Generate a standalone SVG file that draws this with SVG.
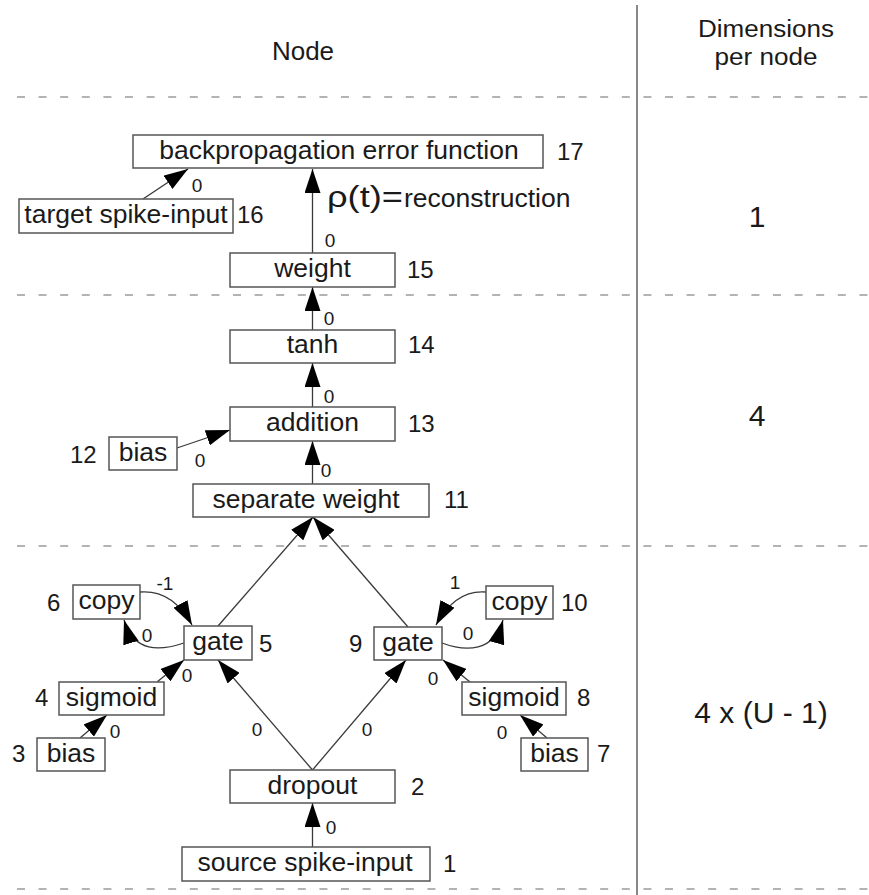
<svg xmlns="http://www.w3.org/2000/svg" width="869" height="895" viewBox="0 0 869 895">
<style>
  text { font-family: "Liberation Sans", Arial, sans-serif; fill: #1a1a1a; }
  .box { fill: #fff; stroke: #555; stroke-width: 1.5; }
  .lbl { font-size: 26.5px; text-anchor: middle; }
  .num { font-size: 24px; }
  .el { font-size: 19px; text-anchor: middle; }
  .hdr { font-size: 26px; text-anchor: middle; }
  .hdr2 { font-size: 23px; text-anchor: middle; }
  .dim { font-size: 30px; text-anchor: middle; }
  .dash { stroke: #9a9a9a; stroke-width: 1.5; stroke-dasharray: 8 13.6; fill: none; }
  .edge { stroke: #3a3a3a; stroke-width: 1.3; fill: none; marker-end: url(#ah); }
</style>
<defs>
  <marker id="ah" markerUnits="userSpaceOnUse" markerWidth="24" markerHeight="16" viewBox="0 0 24 16" refX="24" refY="8" orient="auto">
    <path d="M0,0 L24,8 L0,16 z" fill="#000"/>
  </marker>
</defs>
<rect width="869" height="895" fill="#fff"/>

<g id="grid">
  <line x1="637" y1="5" x2="637" y2="895" stroke="#888" stroke-width="2"/>
  <line class="dash" x1="17" y1="97" x2="869" y2="97"/>
  <line class="dash" x1="17" y1="295" x2="869" y2="295"/>
  <line class="dash" x1="17" y1="546" x2="869" y2="546"/>
  <line class="dash" x1="17" y1="889" x2="869" y2="889"/>
  <text class="hdr" x="303" y="60">Node</text>
  <text class="hdr2" x="766" y="37" textLength="136" lengthAdjust="spacingAndGlyphs">Dimensions</text>
  <text class="hdr2" x="766" y="65" textLength="103" lengthAdjust="spacingAndGlyphs">per node</text>
  <text class="dim" x="757" y="227">1</text>
  <text class="dim" x="757" y="426">4</text>
  <text class="dim" x="761" y="723">4 x (U - 1)</text>
</g>

<g id="connectors">
  <line class="edge" x1="143" y1="199" x2="188" y2="169"/>
  <line class="edge" x1="312.5" y1="253" x2="312.5" y2="169"/>
  <line class="edge" x1="312.5" y1="330" x2="312.5" y2="287"/>
  <line class="edge" x1="312.5" y1="407" x2="312.5" y2="363"/>
  <line class="edge" x1="177" y1="448" x2="230" y2="430"/>
  <line class="edge" x1="312.5" y1="484" x2="312.5" y2="441"/>
  <line class="edge" x1="218" y1="626" x2="313" y2="517"/>
  <line class="edge" x1="408" y1="627" x2="313" y2="517"/>
  <path class="edge" d="M140,592 C165,590 181,605 192,625"/>
  <path class="edge" d="M184,643 C160,651 134,653 124,620"/>
  <line class="edge" x1="157" y1="682" x2="184" y2="660"/>
  <line class="edge" x1="80" y1="738" x2="107" y2="715"/>
  <line class="edge" x1="312.5" y1="770" x2="218" y2="660"/>
  <line class="edge" x1="312.5" y1="770" x2="406" y2="660"/>
  <path class="edge" d="M486,592 C463,590 447,605 436,625"/>
  <path class="edge" d="M442,643 C466,652 494,652 503,620"/>
  <line class="edge" x1="470" y1="682" x2="443" y2="660"/>
  <line class="edge" x1="547" y1="738" x2="520" y2="715"/>
  <line class="edge" x1="312.5" y1="847" x2="312.5" y2="803"/>

  <text class="el" x="197" y="192">0</text>
  <text class="el" x="330" y="247">0</text>
  <text x="327" y="207" font-family="'DejaVu Serif', 'Liberation Serif', serif" font-size="30" textLength="76" lengthAdjust="spacingAndGlyphs">ρ(t)=</text>
  <text x="404" y="207" font-size="26.5">reconstruction</text>
  <text class="el" x="329" y="325">0</text>
  <text class="el" x="329" y="403">0</text>
  <text class="el" x="200" y="467">0</text>
  <text class="el" x="326" y="477">0</text>
  <text class="el" x="165" y="590">-1</text>
  <text class="el" x="147" y="642">0</text>
  <text class="el" x="187" y="682">0</text>
  <text class="el" x="115" y="738">0</text>
  <text class="el" x="257" y="736">0</text>
  <text class="el" x="367" y="736">0</text>
  <text class="el" x="455" y="589">1</text>
  <text class="el" x="468" y="640">0</text>
  <text class="el" x="433" y="685">0</text>
  <text class="el" x="502" y="739">0</text>
  <text class="el" x="331" y="834">0</text>
</g>

<g id="n17"><rect class="box" x="133" y="135" width="410" height="33"/><text class="lbl" x="339" y="159">backpropagation error function</text><text class="num" x="557" y="160">17</text></g>
<g id="n16"><rect class="box" x="19" y="199" width="214" height="34"/><text class="lbl" x="126" y="223">target spike-input</text><text class="num" x="237" y="223">16</text></g>
<g id="n15"><rect class="box" x="230" y="253" width="165" height="34"/><text class="lbl" x="312.5" y="277">weight</text><text class="num" x="407" y="278">15</text></g>
<g id="n14"><rect class="box" x="230" y="330" width="165" height="33"/><text class="lbl" x="312.5" y="353">tanh</text><text class="num" x="408" y="353">14</text></g>
<g id="n13"><rect class="box" x="230" y="407" width="165" height="34"/><text class="lbl" x="312.5" y="431">addition</text><text class="num" x="408" y="432">13</text></g>
<g id="n12"><rect class="box" x="109" y="437" width="68" height="33"/><text class="lbl" x="143" y="461">bias</text><text class="num" x="70" y="463">12</text></g>
<g id="n11"><rect class="box" x="193" y="484" width="236" height="33"/><text class="lbl" x="306" y="508">separate weight</text><text class="num" x="444" y="508">11</text></g>
<g id="n6"><rect class="box" x="73" y="585" width="67" height="34"/><text class="lbl" x="106.5" y="609">copy</text><text class="num" x="47" y="611">6</text></g>
<g id="n5"><rect class="box" x="184" y="626" width="68" height="34"/><text class="lbl" x="218" y="650">gate</text><text class="num" x="259" y="652">5</text></g>
<g id="n4"><rect class="box" x="59" y="682" width="105" height="33"/><text class="lbl" x="111.5" y="706">sigmoid</text><text class="num" x="35" y="706">4</text></g>
<g id="n3"><rect class="box" x="37" y="738" width="68" height="33"/><text class="lbl" x="71" y="762">bias</text><text class="num" x="12" y="762">3</text></g>
<g id="n9"><rect class="box" x="374" y="627" width="68" height="33"/><text class="lbl" x="408" y="651">gate</text><text class="num" x="349" y="652">9</text></g>
<g id="n10"><rect class="box" x="486" y="586" width="67" height="33"/><text class="lbl" x="519.5" y="610">copy</text><text class="num" x="561" y="611">10</text></g>
<g id="n8"><rect class="box" x="462" y="682" width="104" height="33"/><text class="lbl" x="514" y="706">sigmoid</text><text class="num" x="577" y="706">8</text></g>
<g id="n7"><rect class="box" x="521" y="738" width="67" height="33"/><text class="lbl" x="554.5" y="762">bias</text><text class="num" x="597" y="762">7</text></g>
<g id="n2"><rect class="box" x="230" y="770" width="165" height="33"/><text class="lbl" x="312.5" y="794">dropout</text><text class="num" x="411" y="795">2</text></g>
<g id="n1"><rect class="box" x="182" y="847" width="248" height="34"/><text class="lbl" x="305" y="871">source spike-input</text><text class="num" x="443" y="872">1</text></g>
</svg>
